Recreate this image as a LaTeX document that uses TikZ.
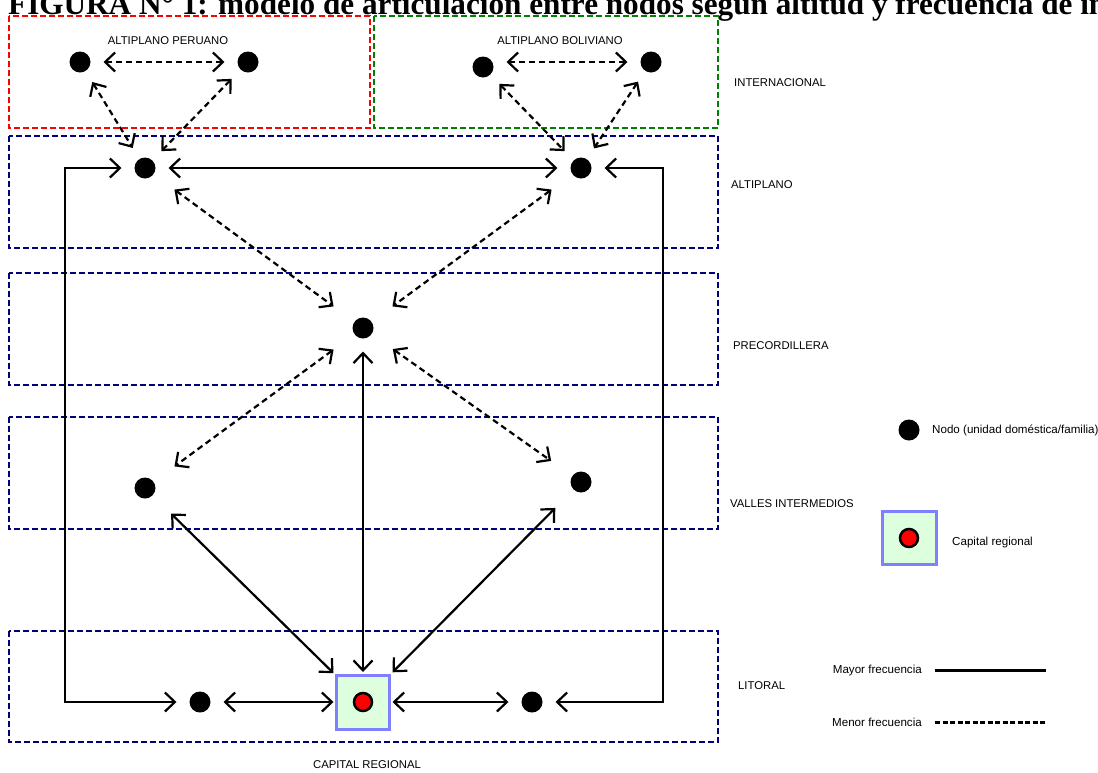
\documentclass[tikz,border=0pt]{standalone}
\usepackage{fontspec}
\setmainfont{Liberation Sans}
\newfontfamily\titlefont{Liberation Serif}
\usepackage{xcolor}
\usetikzlibrary{arrows.meta}

\definecolor{nivel}{RGB}{0,0,128}
\definecolor{peru}{RGB}{255,0,0}
\definecolor{bolivia}{RGB}{0,128,0}
\definecolor{capfill}{RGB}{221,255,221}
\definecolor{capline}{RGB}{128,128,255}

\tikzset{
  nodo/.style={circle,fill=black,minimum size=21pt,inner sep=0pt,outer sep=13pt},
  capital/.style={draw=capline,line width=3pt,fill=capfill,minimum width=53pt,minimum height=54pt,inner sep=0pt,outer sep=3pt},
  capnodo/.style={circle,fill=red,draw=black,line width=2.5pt,minimum size=18pt,inner sep=0pt},
  zona/.style={line width=2.6pt,dash pattern=on 6pt off 3pt},
  fuerte/.style={line width=2.2pt,{Straight Barb[length=10pt,width=19pt]}-{Straight Barb[length=10pt,width=19pt]}},
  debil/.style={fuerte,dash pattern=on 6pt off 4pt},
  lejos/.style={shorten <=13pt,shorten >=13pt},
  rotulo/.style={font=\fontsize{11.3}{13}\selectfont,inner sep=0pt},
  leyenda/.style={rotulo,font=\fontsize{11.6}{13}\selectfont},
}

\begin{document}
\begin{tikzpicture}[x=1pt,y=-1pt]
    \useasboundingbox (0,0) rectangle (1098,772);
    \node[anchor=base west,inner sep=0pt,font=\titlefont\bfseries\fontsize{31.2}{32}\selectfont] (titulo) at (8,14) {FIGURA N° 1: modelo de articulación entre nodos según altitud y frecuencia de in};

    \draw[zona,peru] (9,16) rectangle (370,128);
    \draw[zona,bolivia] (374,16) rectangle (718,128);
    \draw[zona,nivel] (9,136) rectangle (718,248);
    \draw[zona,nivel] (9,273) rectangle (718,385);
    \draw[zona,nivel] (9,417) rectangle (718,529);
    \draw[zona,nivel] (9,631) rectangle (718,742);

    \node[rotulo] (lperu) at (168,41) {ALTIPLANO PERUANO};
    \node[rotulo] (lbol) at (560,41) {ALTIPLANO BOLIVIANO};
    \node[rotulo,anchor=west] (linter) at (734,83) {INTERNACIONAL};
    \node[rotulo,anchor=west] (lalt) at (731,185) {ALTIPLANO};
    \node[rotulo,anchor=west] (lpre) at (733,346) {PRECORDILLERA};
    \node[rotulo,anchor=west] (lval) at (730,504) {VALLES INTERMEDIOS};
    \node[rotulo,anchor=west] (llit) at (738,686) {LITORAL};
    \node[rotulo] (lcap) at (367,765) {CAPITAL REGIONAL};

    \node[nodo] (perA) at (80,62) {};
    \node[nodo] (perB) at (248,62) {};
    \node[nodo] (bolA) at (483,67) {};
    \node[nodo] (bolB) at (651,62) {};
    \node[nodo] (altA) at (145,168) {};
    \node[nodo] (altB) at (581,168) {};
    \node[nodo] (pre) at (363,328) {};
    \node[nodo] (valA) at (145,488) {};
    \node[nodo] (valB) at (581,482) {};
    \node[nodo] (litA) at (200,702) {};
    \node[nodo] (litB) at (532,702) {};
    \node[capital] (cap) at (363,702) {};
    \node[capnodo] (capdot) at (cap) {};
    \coordinate (bordeI) at (65,435);
    \coordinate (bordeD) at (663,435);

    \draw[debil] (perA) -- (perB);
    \draw[debil] (bolA.east |- bolB) -- (bolB);
    \draw[debil] (perA) -- (altA);
    \draw[debil] (perB) -- (altA);
    \draw[debil] (bolA) -- (altB);
    \draw[debil] (bolB) -- (altB);
    \draw[fuerte] (altA) -- (altB);
    \draw[debil,lejos] (altA) -- (pre);
    \draw[debil,lejos] (altB) -- (pre);
    \draw[debil,lejos] (pre) -- (valA);
    \draw[debil,lejos] (pre) -- (valB);
    \draw[fuerte] (pre) -- (cap);
    \draw[fuerte,shorten <=13pt] (valA) -- (cap);
    \draw[fuerte,shorten <=13pt] (valB) -- (cap);
    \draw[fuerte] (litA) -- (cap);
    \draw[fuerte] (cap) -- (litB);
    \draw[fuerte] (altA) -| (bordeI) |- (litA);
    \draw[fuerte] (altB) -| (bordeD) |- (litB);

    \node[nodo] (leynodo) at (909,430) {};
    \node[leyenda,anchor=west] (leynodotxt) at (932,430) {Nodo (unidad doméstica/familia)};
    \node[capital,minimum width=54pt,minimum height=53pt] (leycap) at (909,538) {};
    \node[capnodo] (leycapdot) at (leycap) {};
    \node[leyenda,anchor=west] (leycaptxt) at (952,542) {Capital regional};
    \node[leyenda,anchor=east] (leymayor) at (922,670) {Mayor frecuencia};
    \node[leyenda,anchor=east] (leymenor) at (922,722) {Menor frecuencia};
    \coordinate (mayorA) at (935,670);
    \coordinate (mayorB) at (1046,670);
    \coordinate (menorA) at (935,722);
    \coordinate (menorB) at (1046,722);
    \draw[line width=3pt] (mayorA) -- (mayorB);
    \draw[line width=3pt,dash pattern=on 5pt off 2.5pt] (menorA) -- (menorB);
\end{tikzpicture}
\end{document}
